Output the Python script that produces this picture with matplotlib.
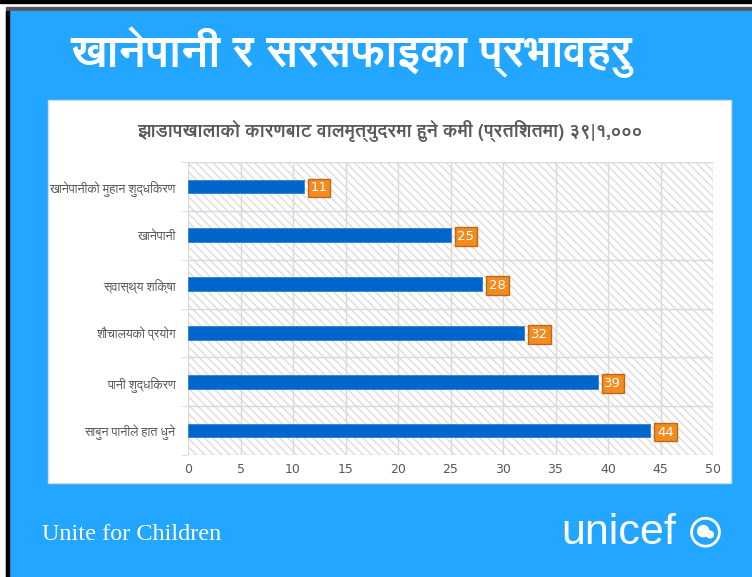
import matplotlib.pyplot as plt
from matplotlib import font_manager
from matplotlib.patches import Rectangle, Circle

# Data
categories = ['खानेपानीको मुहान शुद्धिकरण', 'खानेपानी', 'स्वास्थ्य शिक्षा',
              'शौचालयको प्रयोग', 'पानी शुद्धिकरण', 'साबुन पानीले हात धुने']
values = [11, 25, 28, 32, 39, 44]
xticks = [0, 5, 10, 15, 20, 25, 30, 35, 40, 45, 50]

slide_title = 'खानेपानी र सरसफाइका प्रभावहरु'
chart_title = 'झाडापखालाको कारणबाट वालमृत्युदरमा हुने कमी (प्रतिशतमा) ३९|१,०००'

# look for any installed font that has Devanagari
deva = []
for f in font_manager.fontManager.ttflist:
    n = f.name.lower()
    if any(k in n for k in ['devanagari', 'lohit', 'mukta', 'kalimati', 'freesans',
                            'gargi', 'mangal', 'nirmala', 'sarai', 'hind']):
        if f.name not in deva:
            deva.append(f.name)
fam = deva + ['DejaVu Sans']
plt.rcParams['font.family'] = fam

blue = '#23A6FF'
fig = plt.figure(figsize=(7.52, 5.77), dpi=100)
W, H = 752, 577

def px(x, y, w, h):
    return (x / W, 1 - (y + h) / H, w / W, h / H)

# frame bits at the top and the blue panel
fig.patches.append(Rectangle((0, 1 - 3 / H), 1, 3 / H, transform=fig.transFigure,
                             color='black', zorder=0))
fig.patches.append(Rectangle((6 / W, 1 - 10 / H), 1, 3 / H, transform=fig.transFigure,
                             color='#555555', zorder=0))
fig.patches.append(Rectangle((6 / W, 0), 1, 1 - 11 / H, transform=fig.transFigure,
                             color=blue, zorder=0))
fig.patches.append(Rectangle((6 / W, 0), 3 / W, 1 - 11 / H, transform=fig.transFigure,
                             color='black', zorder=1))
# white chart box
fig.patches.append(Rectangle((48 / W, 1 - 483 / H), 683 / W, 383 / H,
                             transform=fig.transFigure, facecolor='white',
                             edgecolor='#D9D9D9', lw=1, zorder=1))

fig.text(70 / W, 1 - 52 / H, slide_title, color='white', fontsize=32,
         fontweight='bold', va='center', ha='left')
fig.text(390 / W, 1 - 131 / H, chart_title, color='#595959', fontsize=13.2,
         fontweight='bold', va='center', ha='center')

ax = fig.add_axes(px(188, 162, 525, 293))
ax.set_zorder(2)
ax.set_facecolor('white')

y = list(range(len(categories)))
ax.barh(y, values, height=0.28, color='#0066CC', edgecolor='#2E7FD6', lw=0.6, zorder=3)
ax.set_ylim(len(categories) - 0.5, -0.5)
ax.set_xlim(0, 50)

# hatched background
ax.add_patch(Rectangle((0, -0.5), 50, len(categories), facecolor='white',
                       edgecolor='#DCDCDC', hatch='\\\\\\\\', lw=0, zorder=0))

for xv in xticks:
    ax.axvline(xv, color='#D9D9D9', lw=1, zorder=1)
for b in range(len(categories) + 1):
    ax.axhline(b - 0.5, color='#D9D9D9', lw=1, zorder=1)

for yi, v in zip(y, values):
    ax.annotate(str(v), (v, yi), xytext=(5, 0), textcoords='offset points',
                va='center_baseline', ha='left', color='white', fontsize=9.5,
                family='DejaVu Sans',
                bbox=dict(boxstyle='square,pad=0.22', facecolor='#F28C1E',
                          edgecolor='#C4661A', lw=1), zorder=4)

ax.set_yticks(y)
ax.set_yticklabels(categories, fontsize=9, color='#595959')
ax.set_yticks([b - 0.5 for b in range(len(categories) + 1)], minor=True)
ax.tick_params(axis='y', which='major', length=0, pad=9)
ax.tick_params(axis='y', which='minor', length=5, color='#D9D9D9')
ax.set_xticks(xticks)
ax.set_xticklabels([str(t) for t in xticks], fontsize=9, color='#595959',
                   family='DejaVu Sans')
ax.tick_params(axis='x', length=0, pad=6)
for s in ax.spines.values():
    s.set_visible(False)

# footer
fig.text(42 / W, 1 - 535 / H, 'Unite for Children', color='white', fontsize=17.5,
         family='Liberation Serif', va='center', ha='left')
fig.text(561 / W, 1 - 533 / H, 'unicef', color='white', fontsize=31,
         family='Liberation Sans', va='center', ha='left')
logo = fig.add_axes(px(683, 512, 45, 45))
logo.set_zorder(3)
logo.set_xlim(-1, 1)
logo.set_ylim(-1, 1)
logo.axis('off')
logo.add_patch(Circle((0, 0.1), 0.62, facecolor='none', edgecolor='white', lw=2))
logo.add_patch(Circle((-0.1, 0.15), 0.28, facecolor='white', edgecolor='none'))
logo.add_patch(Circle((0.2, 0.0), 0.18, facecolor='white', edgecolor='none'))

fig.savefig('out.png', dpi=100)
